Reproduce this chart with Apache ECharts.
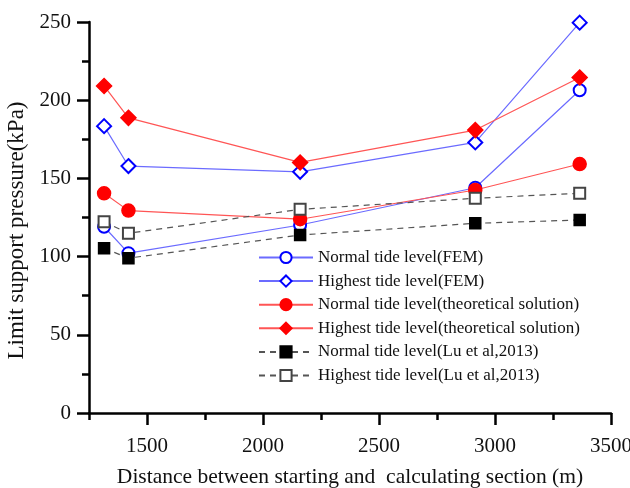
<!DOCTYPE html>
<html>
<head>
<meta charset="utf-8">
<script src="https://cdn.jsdelivr.net/npm/echarts@6/dist/echarts.min.js"></script>
<style>html,body{margin:0;padding:0;background:#fff;}#c{width:630px;height:488px;}</style>
</head>
<body>
<div id="c"></div>
<script>
var distances = [1315, 1420, 2160, 2915, 3365];
var normalFEM = [119.1, 102.2, 120.2, 144.0, 206.4];
var highestFEM = [183.4, 157.9, 154.2, 173.0, 249.6];
var normalTheory = [140.5, 129.4, 123.9, 142.6, 159.2];
var highestTheory = [209.1, 188.7, 160.2, 180.9, 214.5];
var normalLu = [105.4, 99.0, 113.8, 121.3, 123.4];
var highestLu = [122.3, 114.9, 130.2, 137.3, 140.5];
var xMajorTicks = [1500, 2000, 2500, 3000, 3500];
var xMinorTicks = [1250, 1750, 2250, 2750, 3250];
var seriesNames = [
  'Normal tide level(FEM)',
  'Highest tide level(FEM)',
  'Normal tide level(theoretical solution)',
  'Highest tide level(theoretical solution)',
  'Normal tide level(Lu et al,2013)',
  'Highest tide level(Lu et al,2013)'
];

function pairs(ys){ return distances.map(function(x,i){ return [x, ys[i]]; }); }
var FONT = 'Liberation Serif';

function mk(name, ys, symbol, size, markerColor, lineColor, dashed, borderColor){
  return {
    name: name, type: 'line', data: pairs(ys), symbol: symbol, symbolSize: size,
    showAllSymbol: true, z: 3,
    itemStyle: { color: markerColor, borderColor: borderColor || markerColor, borderWidth: 1.5 },
    lineStyle: { color: lineColor, width: 1.2, type: dashed ? [6,5] : 'solid' },
    emphasis: { disabled: true }
  };
}

var chart = echarts.init(document.getElementById('c'), null, {renderer: 'canvas'});
chart.setOption({
  animation: false,
  backgroundColor: '#fff',
  textStyle: { fontFamily: FONT },
  grid: { left: 89, right: 19, top: 22, bottom: 75, containLabel: false, outerBoundsMode: 'none' },
  legend: {
    orient: 'vertical', left: 253, top: 244,
    itemWidth: 54, itemHeight: 14, itemGap: 6.6,
    textStyle: { fontFamily: FONT, fontSize: 17, color: '#111' },
    data: seriesNames
  },
  xAxis: [{
    type: 'value', min: 1250, max: 3500,
    name: 'Distance between starting and  calculating section (m)',
    nameLocation: 'middle', nameGap: 53,
    nameTextStyle: { fontFamily: FONT, fontSize: 21.5, color: '#111' },
    axisLine: { show: true, onZero: false, lineStyle: { color: '#000', width: 2.5 } },
    axisTick: { show: true, length: 12, customValues: xMajorTicks, lineStyle: { color: '#000', width: 2.5 } },
    axisLabel: { customValues: xMajorTicks, margin: 23, fontFamily: FONT, fontSize: 21, color: '#111',
      formatter: function(v){ return String(v); } },
    splitLine: { show: false }
  }, {
    type: 'value', min: 1250, max: 3500, position: 'bottom',
    axisLine: { show: false },
    axisTick: { show: true, length: 7, customValues: xMinorTicks, lineStyle: { color: '#000', width: 2.5 } },
    axisLabel: { show: false },
    splitLine: { show: false }
  }],
  yAxis: {
    type: 'value', min: 0, max: 250, interval: 50,
    name: 'Limit support pressure(kPa)',
    nameLocation: 'middle', nameGap: 52,
    nameTextStyle: { fontFamily: FONT, fontSize: 23, color: '#111', padding: [0, 26, 0, 0] },
    axisLine: { show: true, lineStyle: { color: '#000', width: 2.5 } },
    axisTick: { show: true, length: 12, lineStyle: { color: '#000', width: 2.5 } },
    minorTick: { show: true, splitNumber: 2, length: 7, lineStyle: { color: '#000', width: 2.5 } },
    axisLabel: { margin: 18, fontFamily: FONT, fontSize: 21, color: '#111',
      formatter: function(v){ return String(v); } },
    splitLine: { show: false }
  },
  series: [
    mk(seriesNames[0], normalFEM, 'emptyCircle', 12, '#0000ff', '#6b6bff', false),
    mk(seriesNames[1], highestFEM, 'emptyDiamond', 14, '#0000ff', '#6b6bff', false),
    mk(seriesNames[2], normalTheory, 'circle', 13, '#ff0000', '#ff5555', false),
    mk(seriesNames[3], highestTheory, 'diamond', 15, '#ff0000', '#ff5555', false),
    mk(seriesNames[4], normalLu, 'rect', 11, '#000000', '#555555', true),
    mk(seriesNames[5], highestLu, 'emptyRect', 11, '#444444', '#555555', true)
  ]
});
</script>
</body>
</html>
